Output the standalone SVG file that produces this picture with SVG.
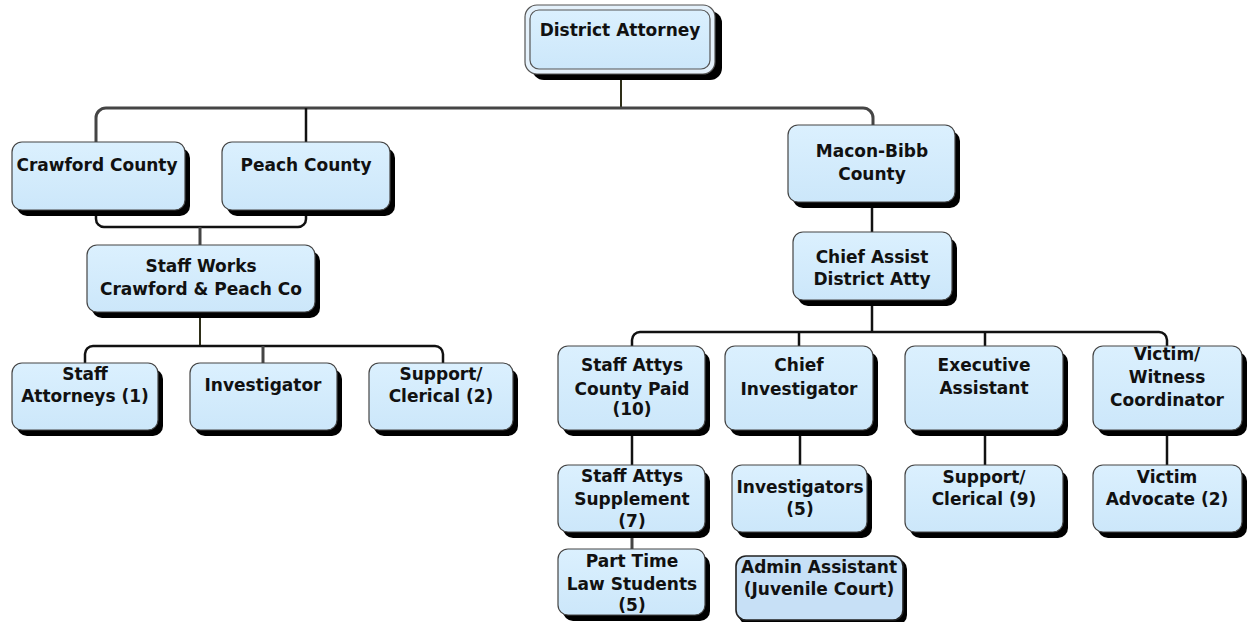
<svg xmlns="http://www.w3.org/2000/svg" width="1250" height="622" viewBox="0 0 1250 622">
  <defs>
    <linearGradient id="boxFill" x1="0" y1="0" x2="0" y2="1">
      <stop offset="0" stop-color="#dbf0fe"/>
      <stop offset="1" stop-color="#cce7fa"/>
    </linearGradient>
    <style>
      .shadow { fill: #000; }
      .box { fill: url(#boxFill); stroke: #454545; stroke-width: 1.2; }
      .box-alt { fill: #c7e0f6; stroke: #222; stroke-width: 1.6; }
      .lbl { font-family: "DejaVu Sans", "Liberation Sans", sans-serif; font-weight: bold; font-size: 17px; fill: #111; text-anchor: middle; }
      .wire { fill: none; stroke: #111; stroke-width: 2.5; }
      .wire-grey { fill: none; stroke: #454545; stroke-width: 3; }
      .wire-olive { fill: none; stroke: #2e2e18; stroke-width: 2; }
    </style>
  </defs>
  <rect width="1250" height="622" fill="#fff"/>

  <!-- connectors -->
  <g id="connectors">
    <line class="wire-olive" x1="621" y1="75" x2="621" y2="108"/>
    <path class="wire-grey" d="M96,142 V118 A10,10 0 0 1 106,108 H863 A10,10 0 0 1 873,118 V125"/>
    <line class="wire" x1="306" y1="108" x2="306" y2="142" stroke-width="2"/>
    <path class="wire" d="M96,210 V219 A8,8 0 0 0 104,227 H298 A8,8 0 0 0 306,219 V210"/>
    <line class="wire-grey" x1="200" y1="227" x2="200" y2="245"/>
    <line class="wire-olive" x1="200" y1="312" x2="200" y2="346"/>
    <path class="wire" d="M85,363 V354 A8,8 0 0 1 93,346 H435 A8,8 0 0 1 443,354 V363"/>
    <line class="wire-grey" x1="263" y1="346" x2="263" y2="363"/>
    <line class="wire" x1="872" y1="202" x2="872" y2="232"/>
    <line class="wire" x1="872" y1="300" x2="872" y2="332"/>
    <path class="wire" d="M632,346 V340 A8,8 0 0 1 640,332 H1159 A8,8 0 0 1 1167,340 V346"/>
    <line class="wire" x1="799" y1="332" x2="799" y2="346"/>
    <line class="wire" x1="985" y1="332" x2="985" y2="346"/>
    <line class="wire" x1="632" y1="430" x2="632" y2="465"/>
    <line class="wire-grey" x1="632" y1="532" x2="632" y2="549"/>
    <line class="wire" x1="800" y1="430" x2="800" y2="465"/>
    <line class="wire" x1="985" y1="430" x2="985" y2="465"/>
    <line class="wire" x1="1167" y1="430" x2="1167" y2="465"/>
  </g>

  <!-- top of the chart -->
  <g id="district-attorney">
    <rect class="shadow" x="532" y="11" width="190" height="69" rx="12"/>
    <rect x="525" y="5" width="190" height="69" rx="12" fill="#e4f1fb" stroke="#555" stroke-width="1.2"/>
    <rect x="530" y="10" width="180" height="59" rx="9" fill="url(#boxFill)" stroke="#555" stroke-width="1.2"/>
    <text class="lbl" x="620" y="36">District Attorney</text>
  </g>

  <g id="crawford-county">
    <rect class="shadow" x="17" y="148" width="173" height="68" rx="10"/>
    <rect class="box" x="12" y="142" width="173" height="68" rx="10"/>
    <text class="lbl" x="97" y="171">Crawford County</text>
  </g>

  <g id="peach-county">
    <rect class="shadow" x="227" y="148" width="168" height="68" rx="10"/>
    <rect class="box" x="222" y="142" width="168" height="68" rx="10"/>
    <text class="lbl" x="306" y="171">Peach County</text>
  </g>

  <g id="macon-bibb-county">
    <rect class="shadow" x="793" y="131" width="167" height="77" rx="10"/>
    <rect class="box" x="788" y="125" width="167" height="77" rx="10"/>
    <text class="lbl" x="872" y="157">Macon-Bibb</text>
    <text class="lbl" x="872" y="180">County</text>
  </g>

  <g id="staff-works">
    <rect class="shadow" x="92" y="251" width="228" height="67" rx="10"/>
    <rect class="box" x="87" y="245" width="228" height="67" rx="10"/>
    <text class="lbl" x="201" y="272">Staff Works</text>
    <text class="lbl" x="201" y="295">Crawford &amp; Peach Co</text>
  </g>

  <g id="chief-assist">
    <rect class="shadow" x="798" y="238" width="159" height="68" rx="10"/>
    <rect class="box" x="793" y="232" width="159" height="68" rx="10"/>
    <text class="lbl" x="872" y="263">Chief Assist</text>
    <text class="lbl" x="872" y="285">District Atty</text>
  </g>

  <!-- Crawford & Peach staff -->
  <g id="staff-attorneys">
    <rect class="shadow" x="17" y="369" width="146" height="67" rx="10"/>
    <rect class="box" x="12" y="363" width="146" height="67" rx="10"/>
    <text class="lbl" x="85" y="380">Staff</text>
    <text class="lbl" x="85" y="402">Attorneys (1)</text>
  </g>

  <g id="investigator">
    <rect class="shadow" x="195" y="369" width="147" height="67" rx="10"/>
    <rect class="box" x="190" y="363" width="147" height="67" rx="10"/>
    <text class="lbl" x="263" y="391">Investigator</text>
  </g>

  <g id="support-clerical-2">
    <rect class="shadow" x="374" y="369" width="144" height="67" rx="10"/>
    <rect class="box" x="369" y="363" width="144" height="67" rx="10"/>
    <text class="lbl" x="441" y="380">Support/</text>
    <text class="lbl" x="441" y="402">Clerical (2)</text>
  </g>

  <!-- Macon-Bibb staff -->
  <g id="staff-attys-county">
    <rect class="shadow" x="563" y="352" width="147" height="84" rx="10"/>
    <rect class="box" x="558" y="346" width="147" height="84" rx="10"/>
    <text class="lbl" x="632" y="371">Staff Attys</text>
    <text class="lbl" x="632" y="395">County Paid</text>
    <text class="lbl" x="632" y="415">(10)</text>
  </g>

  <g id="chief-investigator">
    <rect class="shadow" x="730" y="352" width="148" height="84" rx="10"/>
    <rect class="box" x="725" y="346" width="148" height="84" rx="10"/>
    <text class="lbl" x="799" y="371">Chief</text>
    <text class="lbl" x="799" y="395">Investigator</text>
  </g>

  <g id="executive-assistant">
    <rect class="shadow" x="910" y="352" width="158" height="84" rx="10"/>
    <rect class="box" x="905" y="346" width="158" height="84" rx="10"/>
    <text class="lbl" x="984" y="371">Executive</text>
    <text class="lbl" x="984" y="394">Assistant</text>
  </g>

  <g id="victim-witness">
    <rect class="shadow" x="1098" y="352" width="149" height="84" rx="10"/>
    <rect class="box" x="1093" y="346" width="149" height="84" rx="10"/>
    <text class="lbl" x="1167" y="360">Victim/</text>
    <text class="lbl" x="1167" y="383">Witness</text>
    <text class="lbl" x="1167" y="406">Coordinator</text>
  </g>

  <g id="staff-attys-supplement">
    <rect class="shadow" x="563" y="471" width="147" height="67" rx="10"/>
    <rect class="box" x="558" y="465" width="147" height="67" rx="10"/>
    <text class="lbl" x="632" y="482">Staff Attys</text>
    <text class="lbl" x="632" y="505">Supplement</text>
    <text class="lbl" x="632" y="527">(7)</text>
  </g>

  <g id="investigators">
    <rect class="shadow" x="737" y="471" width="135" height="67" rx="10"/>
    <rect class="box" x="732" y="465" width="135" height="67" rx="10"/>
    <text class="lbl" x="800" y="493">Investigators</text>
    <text class="lbl" x="800" y="515">(5)</text>
  </g>

  <g id="support-clerical-9">
    <rect class="shadow" x="910" y="471" width="158" height="67" rx="10"/>
    <rect class="box" x="905" y="465" width="158" height="67" rx="10"/>
    <text class="lbl" x="984" y="483">Support/</text>
    <text class="lbl" x="984" y="505">Clerical (9)</text>
  </g>

  <g id="victim-advocate">
    <rect class="shadow" x="1098" y="471" width="149" height="67" rx="10"/>
    <rect class="box" x="1093" y="465" width="149" height="67" rx="10"/>
    <text class="lbl" x="1167" y="483">Victim</text>
    <text class="lbl" x="1167" y="505">Advocate (2)</text>
  </g>

  <g id="part-time-law-students">
    <rect class="shadow" x="563" y="555" width="147" height="66" rx="10"/>
    <rect class="box" x="558" y="549" width="147" height="66" rx="10"/>
    <text class="lbl" x="632" y="567">Part Time</text>
    <text class="lbl" x="632" y="590">Law Students</text>
    <text class="lbl" x="632" y="611">(5)</text>
  </g>

  <g id="admin-assistant">
    <rect class="shadow" x="739" y="559" width="168" height="66" rx="10"/>
    <rect class="box-alt" x="736" y="556" width="167" height="64" rx="10"/>
    <text class="lbl" x="819" y="573">Admin Assistant</text>
    <text class="lbl" x="819" y="595">(Juvenile Court)</text>
  </g>
</svg>
